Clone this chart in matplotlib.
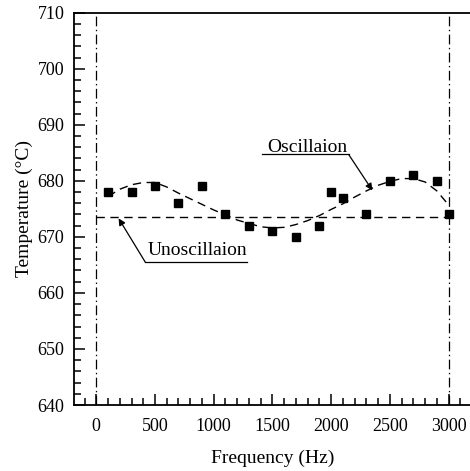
import matplotlib
matplotlib.use('Agg')
import matplotlib.pyplot as plt
from matplotlib.ticker import MultipleLocator

plt.rcParams['font.family'] = ['Liberation Serif', 'DejaVu Serif']
plt.rcParams['lines.scale_dashes'] = False

# measured points (Hz, degC)
freq = [100, 300, 500, 700, 900, 1100, 1300, 1500, 1700, 1900,
        2000, 2100, 2300, 2500, 2700, 2900, 3000]
temp = [678, 678, 679, 676, 679, 674, 672, 671, 670, 672,
        678, 677, 674, 680, 681, 680, 674]

# oscillation trend curve
osc_f = [100, 200, 300, 400, 500, 600, 700, 800, 900, 1000,
         1100, 1200, 1300, 1400, 1500, 1600, 1700, 1800, 1900, 2000,
         2100, 2200, 2300, 2400, 2500, 2600, 2700, 2800, 2900, 3000]
osc_t = [677.2, 678.5, 679.3, 679.7, 679.7, 678.9, 677.8, 676.8, 675.8, 674.8,
         673.9, 673.0, 672.4, 671.8, 671.6, 671.7, 672.2, 672.9, 673.8, 674.9,
         675.9, 677.1, 678.2, 679.2, 679.9, 680.4, 680.4, 679.8, 678.2, 675.7]

# unoscillated level
unosc_t = 673.5
unosc_range = [0, 3000]

fig = plt.figure(figsize=(4.70, 4.71), dpi=100)
ax = fig.add_axes([0.1574, 0.1401, 0.847, 0.833])

ax.axvline(0, color='black', lw=0.9, dashes=(7, 2.5, 1, 2.5))
ax.axvline(3000, color='black', lw=0.9, dashes=(7, 2.5, 1, 2.5))

ax.plot(unosc_range, [unosc_t, unosc_t], color='black', lw=1.0, dashes=(6, 4))
ax.plot(osc_f, osc_t, color='black', lw=1.0, dashes=(6, 4))
ax.plot(freq, temp, 's', color='black', ms=6, mec='black')

ax.set_xlim(-190, 3200)
ax.set_ylim(640, 710)
ax.xaxis.set_major_locator(MultipleLocator(500))
ax.xaxis.set_minor_locator(MultipleLocator(100))
ax.yaxis.set_major_locator(MultipleLocator(10))
ax.yaxis.set_minor_locator(MultipleLocator(2))
ax.tick_params(which='both', direction='in', top=False, right=False, width=1.1)
ax.tick_params(which='major', length=8)
ax.tick_params(which='minor', length=5)
ax.tick_params(axis='x', labelsize=13, pad=9)
ax.tick_params(axis='y', labelsize=13, pad=7)

for s in ['left', 'bottom', 'top']:
    ax.spines[s].set_linewidth(1.3)
ax.spines['right'].set_visible(False)

ax.set_xlabel('Frequency (Hz)', fontsize=14, labelpad=11)
ax.set_ylabel('Temperature (°C)', fontsize=14, labelpad=3)

# labels with underline and leader arrows
ax.text(1801, 686.0, 'Oscillaion', fontsize=14, ha='center', va='center')
ax.plot([1411, 2149], [684.7, 684.7], color='black', lw=0.9)
ax.annotate('', xy=(2351, 678.3), xytext=(2149, 684.7),
            arrowprops=dict(arrowstyle='-|>', color='black', lw=0.9,
                            mutation_scale=10, shrinkA=0, shrinkB=0))

ax.text(858, 667.6, 'Unoscillaion', fontsize=14, ha='center', va='center')
ax.plot([417, 1284], [665.5, 665.5], color='black', lw=0.9)
ax.annotate('', xy=(190, 673.3), xytext=(417, 665.5),
            arrowprops=dict(arrowstyle='-|>', color='black', lw=0.9,
                            mutation_scale=10, shrinkA=0, shrinkB=0))

fig.savefig('out.png', dpi=100, facecolor='white')
